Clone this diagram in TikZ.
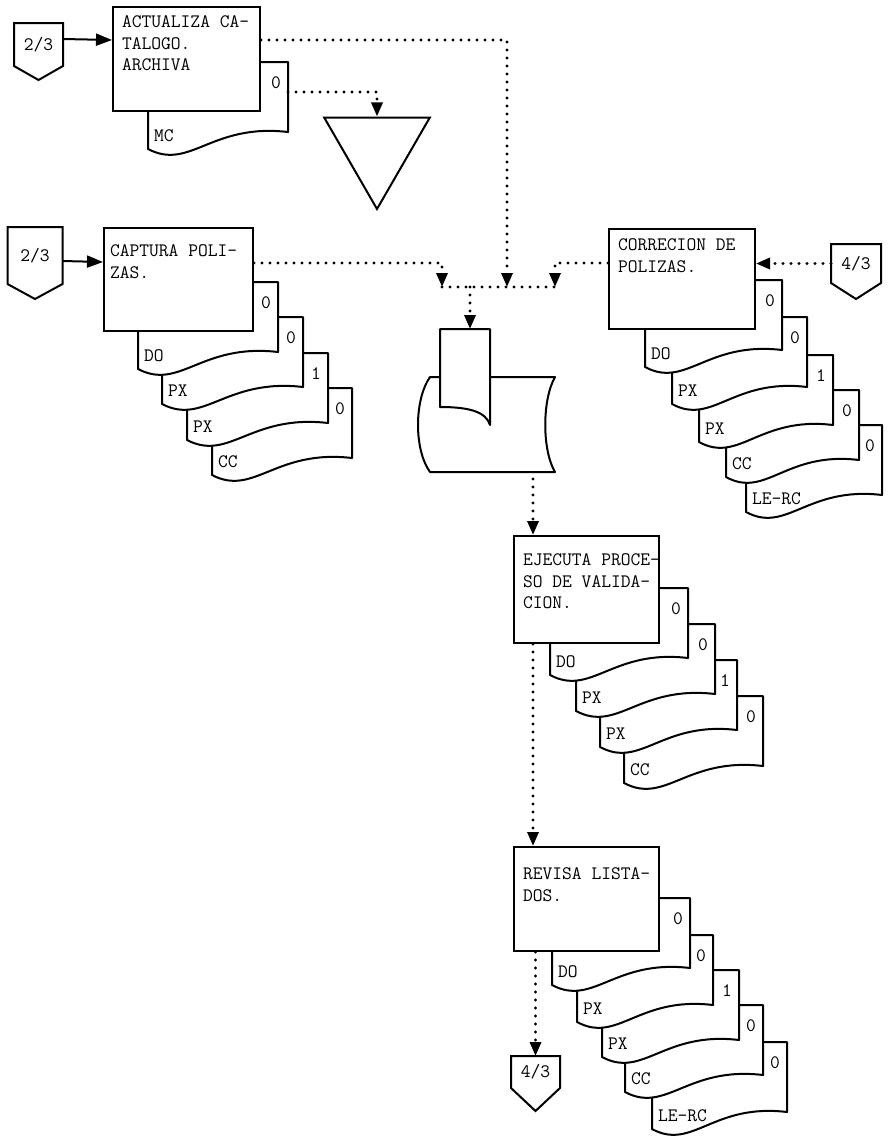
\documentclass[tikz,border=0pt]{standalone}
\usepackage{fontspec}
\usepackage{tikz}
\usetikzlibrary{arrows.meta, shapes.geometric, positioning}

\newcommand{\chartfont}{\fontsize{19}{21.5}\selectfont\ttfamily}
% sheet: name, left, top, right, label, mark
\newcommand{\docsheet}[6]{%
  \draw[sheet] (#2,#3) -- (#4,#3) -- (#4,{#3+70})
    .. controls ({#2+0.45*(#4-#2)},{#3+61}) and ({#2+0.3*(#4-#2)},{#3+109}) .. (#2,{#3+87}) -- cycle;
  \node[sheettext, anchor=west] (#1-l) at ({#2+5},{#3+74}) {#5};
  \node[sheettext] (#1-m) at ({#4-12},{#3+21}) {#6};
}

\begin{document}
\begin{tikzpicture}[x=1pt, y=-1pt,
        line width=2pt,
        sheet/.style={draw, fill=white, line join=round},
        sheettext/.style={inner sep=0pt, font=\chartfont},
        procbox/.style={draw, fill=white, anchor=north west, inner sep=0pt},
        boxtext/.style={anchor=north west, inner sep=0pt, xshift=9pt, align=left, font=\chartfont},
        offpage/.style={inner sep=0pt, font=\chartfont},
        dotline/.style={line width=3.2pt, dash pattern=on 0pt off 8pt, line cap=round},
        flow/.style={dotline, -{Triangle[length=14pt, width=11pt]}},
        solidarrow/.style={-{Triangle[length=16pt, width=12pt]}}
    ]
    \useasboundingbox (0,0) rectangle (890,1138);

    % catalogue update
    \docsheet{mc}{148}{62}{288}{MC}{0}
    \coordinate (mcr) at (288,92);
    \node[procbox, minimum width=147pt, minimum height=104pt,
        label={[boxtext, yshift=-9pt]north west:{ACTUALIZA CA-\\TALOGO.\\ARCHIVA}}] (act) at (112,6) {};
    \node[draw, fill=white, regular polygon, regular polygon sides=3, shape border rotate=180,
        minimum size=122pt, inner sep=0pt] (arch) at (377,148) {};

    % capture
    \docsheet{cap4}{212}{388}{352}{CC}{0}
    \docsheet{cap3}{187}{353}{328}{PX}{1}
    \docsheet{cap2}{162}{317}{303}{PX}{0}
    \docsheet{cap1}{138}{282}{278}{DO}{0}
    \node[procbox, minimum width=149pt, minimum height=103pt,
        label={[boxtext, xshift=-3pt, yshift=-17pt]north west:{CAPTURA POLI-\\ZAS.}}] (cap) at (103,227) {};

    % correction
    \docsheet{cor5}{746}{425}{882}{LE-RC}{0}
    \docsheet{cor4}{726}{390}{859}{CC}{0}
    \docsheet{cor3}{699}{355}{833}{PX}{1}
    \docsheet{cor2}{672}{317}{807}{PX}{0}
    \docsheet{cor1}{645}{280}{782}{DO}{0}
    \node[procbox, minimum width=146pt, minimum height=100pt,
        label={[boxtext, yshift=-10pt]north west:{CORRECION DE\\POLIZAS.}}] (cor) at (608,228) {};

    % storage
    \draw[sheet] (430,377) -- (555,377) .. controls (542,400) and (542,450) .. (555,472)
        -- (430,472) .. controls (414,450) and (414,400) .. (430,377) -- cycle;
    \draw[sheet] (440,329) -- (490,329) -- (490,425) .. controls (486,412) and (470,407) .. (440,407) -- cycle;
    \coordinate (card) at (470,329);
    \coordinate (disk-out) at (533,479);

    % validation
    \docsheet{eje4}{624}{696}{763}{CC}{0}
    \docsheet{eje3}{600}{660}{737}{PX}{1}
    \docsheet{eje2}{576}{624}{715}{PX}{0}
    \docsheet{eje1}{550}{588}{688}{DO}{0}
    \node[procbox, minimum width=145pt, minimum height=107pt,
        label={[boxtext, yshift=-18pt]north west:{EJECUTA PROCE-\\SO DE VALIDA-\\CION.}}] (eje) at (513,535) {};

    % listings
    \docsheet{rev5}{652}{1042}{787}{LE-RC}{0}
    \docsheet{rev4}{625}{1005}{763}{CC}{0}
    \docsheet{rev3}{602}{970}{739}{PX}{1}
    \docsheet{rev2}{577}{935}{713}{PX}{0}
    \docsheet{rev1}{552}{898}{690}{DO}{0}
    \node[procbox, minimum width=145pt, minimum height=104pt,
        label={[boxtext, yshift=-21pt]north west:{REVISA LISTA-\\DOS.}}] (rev) at (513,846) {};

    % off-page connectors
    \node[offpage, minimum width=47pt, minimum height=41pt] (c1) at (38.5,44.5) {2/3};
    \draw (c1.north west) -| (c1.south east) -- ([yshift=-14pt]c1.south) -- (c1.south west) -- cycle;
    \node[offpage, minimum width=53pt, minimum height=55pt] (c2) at (35,255.5) {2/3};
    \draw (c2.north west) -| (c2.south east) -- ([yshift=-15pt]c2.south) -- (c2.south west) -- cycle;
    \node[offpage, minimum width=48pt, minimum height=37pt] (c3) at (856,263.5) {4/3};
    \draw (c3.north west) -| (c3.south east) -- ([yshift=-16pt]c3.south) -- (c3.south west) -- cycle;
    \node[offpage, minimum width=47pt, minimum height=30pt] (c4) at (535.5,1072) {4/3};
    \draw (c4.north west) -| (c4.south east) -- ([yshift=-23pt]c4.south) -- (c4.south west) -- cycle;

    % junctions
    \coordinate (j1) at (442,287);
    \coordinate (j2) at (507,287);
    \coordinate (j3) at (555,287);
    \coordinate (j4) at (470,287);

    \draw[solidarrow] ([yshift=-16pt]c1.north east) -- ([yshift=-34pt]act.north west);
    \draw[solidarrow] ([yshift=-34pt]c2.north east) -- ([yshift=-35pt]cap.north west);
    \draw[flow] ([yshift=-34pt]act.north east) -| (j2);
    \draw[flow] (mcr) -| (arch.north);
    \draw[flow] ([yshift=-36pt]cap.north east) -| (j1);
    \draw[flow] ([yshift=-35pt]cor.north west) -| (j3);
    \draw[dotline] (j1) -- (j3);
    \draw[flow] (j4) -- (card);
    \draw[flow] (c3.west) -- (c3.west -| cor.east);
    \draw[flow] (disk-out) -- (disk-out |- eje.north);
    \draw[flow] (disk-out |- eje.south) -- (disk-out |- rev.north);
    \draw[flow] (rev.south -| c4.north) -- (c4.north);
\end{tikzpicture}
\end{document}
